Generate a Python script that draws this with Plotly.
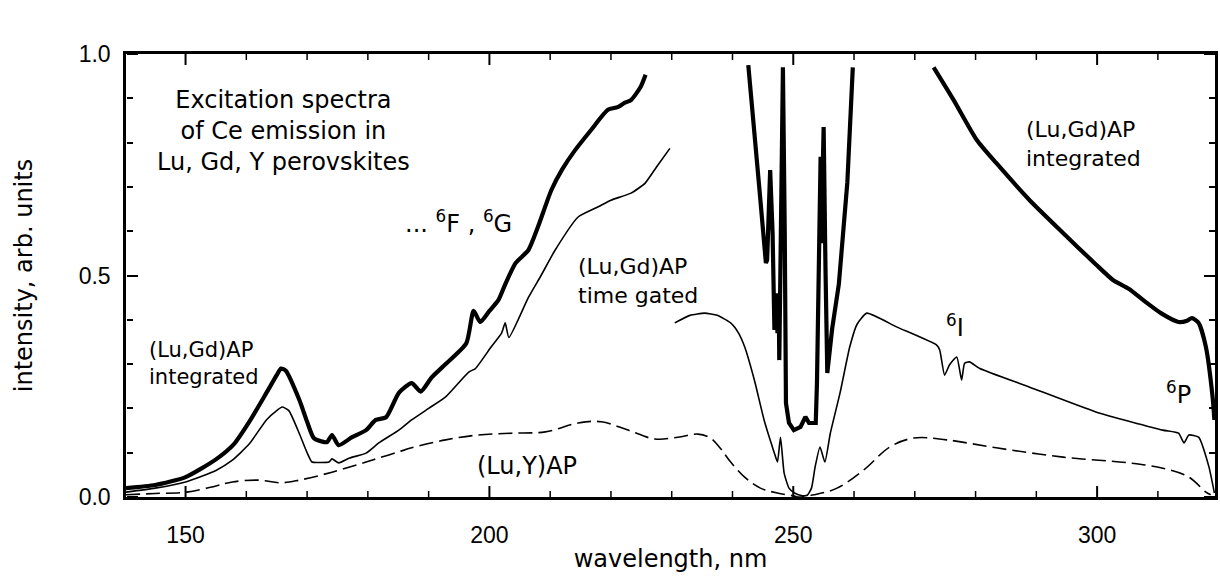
import plotly.graph_objects as go

# ---- data (wavelength nm, intensity arb. units) ----
thick_left_wl = [140.2, 145, 150, 155, 158, 160.5, 163.3, 165, 165.7, 166.5, 168.7, 170, 171.1, 172.5, 173.3,
                 174.1, 175.2, 177.4, 179.7, 181.3, 183, 185.1, 187.2, 188.7, 190.5, 192.8, 196.2, 197.4, 198.5,
                 200, 201.5, 202.6, 204.3, 206.4, 208, 210.2, 212, 214.1, 216.7, 219.5, 221.1, 222.3, 223.3,
                 224.9, 225.7]
thick_left_y = [0.02, 0.027, 0.045, 0.085, 0.12, 0.17, 0.235, 0.275, 0.29, 0.285, 0.22, 0.17, 0.133, 0.125, 0.124,
                0.14, 0.117, 0.135, 0.151, 0.174, 0.18, 0.235, 0.257, 0.238, 0.27, 0.30, 0.347, 0.42, 0.395,
                0.42, 0.445, 0.48, 0.528, 0.557, 0.61, 0.693, 0.74, 0.783, 0.828, 0.874, 0.88, 0.89, 0.896,
                0.926, 0.953]

thick_mid_wl = [242.6, 243.3, 244.4, 245.5, 245.7, 246.2, 246.6, 246.9, 247.2, 247.4, 247.6, 247.7, 248.0, 248.3,
                248.6, 248.8, 249.3, 250.1, 251.2, 252.0, 252.6, 253.7, 253.9, 254.2, 254.5, 254.6, 254.9, 255.0,
                255.3, 255.6, 256.4, 257.5, 258.9, 259.8]
thick_mid_y = [0.975, 0.858, 0.70, 0.528, 0.535, 0.738, 0.596, 0.377, 0.46, 0.37, 0.46, 0.309, 0.596, 0.97,
               0.596, 0.212, 0.167, 0.151, 0.158, 0.181, 0.167, 0.167, 0.257, 0.519, 0.768, 0.573, 0.768, 0.835,
               0.519, 0.28, 0.38, 0.48, 0.71, 0.97]

thick_right_wl = [273.1, 276.4, 280.2, 283.4, 288.9, 294.4, 299.8, 302.6, 305.2, 308, 310.5, 313.4, 314.8,
                  315.6, 316.7, 317.9, 319, 319.3]
thick_right_y = [0.97, 0.896, 0.806, 0.754, 0.67, 0.596, 0.525, 0.49, 0.47, 0.44, 0.415, 0.395, 0.398,
                 0.404, 0.393, 0.339, 0.226, 0.174]

gated_left_wl = [140.2, 145, 150, 155, 157.7, 160.5, 163.3, 165, 165.9, 167, 168.7, 170, 170.8, 172, 173.6,
                 174.1, 175.2, 177, 179.7, 181.8, 185.1, 187.2, 190, 192.8, 196.6, 197.7, 200.3, 202, 202.6,
                 203.2, 206.4, 208.5, 210.8, 214.6, 217.9, 220, 223.3, 225.6, 227.5, 229.7]
gated_left_y = [0.011, 0.02, 0.034, 0.06, 0.083, 0.12, 0.174, 0.195, 0.203, 0.195, 0.144, 0.1, 0.079, 0.078,
                0.079, 0.086, 0.077, 0.088, 0.099, 0.122, 0.151, 0.174, 0.2, 0.226, 0.282, 0.29, 0.339, 0.37,
                0.393, 0.36, 0.45, 0.5, 0.557, 0.632, 0.655, 0.67, 0.686, 0.708, 0.745, 0.787]

gated_right_wl = [230.5, 233, 235.4, 237.5, 239.7, 241, 242, 243.6, 245.2, 246.4, 246.9, 247.4, 247.9, 248.5,
                  249.3, 250.2, 251.5, 252.3, 253, 253.6, 254.4, 255.2, 256.1, 257.7, 259.3, 260.5, 262.1, 267,
                  273.6, 274.1, 274.9, 275.7, 276.9, 277.7, 278.2, 279, 280.7, 288.9, 299.8, 310.8, 313.4,
                  314.3, 315.1, 316.7, 318.4, 319.3]
gated_right_y = [0.393, 0.41, 0.415, 0.41, 0.393, 0.37, 0.339, 0.264, 0.174, 0.12, 0.099, 0.079, 0.135, 0.054,
                 0.02, 0.009, 0.003, 0.004, 0.02, 0.068, 0.113, 0.079, 0.144, 0.235, 0.339, 0.39, 0.415, 0.384,
                 0.343, 0.332, 0.275, 0.298, 0.316, 0.264, 0.302, 0.305, 0.29, 0.248, 0.192, 0.151, 0.144,
                 0.122, 0.14, 0.135, 0.068, 0.009]

luy_wl = [140.2, 145, 150.2, 155, 157.7, 162.1, 165.7, 168.7, 174.1, 179.7, 181.8, 185.1, 187.2, 192.8, 198.2,
          203.6, 209.2, 214.6, 218.4, 222.8, 227.2, 231, 234.3, 236.4, 238, 239.7, 242, 244.6, 247.4, 250.2,
          250.7, 253.4, 257.2, 261.6, 265.9, 269.8, 275.2, 283.4, 294.4, 305.2, 310.8, 315.1, 317.9, 318.7]
luy_y = [0.005, 0.008, 0.011, 0.025, 0.034, 0.038, 0.032, 0.038, 0.056, 0.079, 0.088, 0.102, 0.111, 0.129, 0.14,
         0.144, 0.147, 0.167, 0.17, 0.151, 0.131, 0.135, 0.142, 0.133, 0.11, 0.079, 0.045, 0.02, 0.009, 0.002,
         0.0, 0.005, 0.02, 0.061, 0.113, 0.133, 0.129, 0.111, 0.09, 0.077, 0.065, 0.045, 0.011, 0.005]

X_RANGE = [140.2, 319.4]
Y_RANGE = [0, 1.0]
X_MAJOR = [150, 200, 250, 300]
X_MINOR = [v for v in range(150, 320, 10) if v % 50]

TXT = "DejaVu Sans"
TICK = "Liberation Sans, Arial"

fig = go.Figure()
for xs, ys, shape in [(thick_left_wl, thick_left_y, "spline"), (thick_mid_wl, thick_mid_y, "linear"),
                      (thick_right_wl, thick_right_y, "spline")]:
    fig.add_trace(go.Scatter(x=xs, y=ys, mode="lines",
                             line=dict(color="black", width=4.2, shape=shape, smoothing=0.6),
                             showlegend=False, hoverinfo="skip"))
for xs, ys in [(gated_left_wl, gated_left_y), (gated_right_wl, gated_right_y)]:
    fig.add_trace(go.Scatter(x=xs, y=ys, mode="lines",
                             line=dict(color="black", width=1.6, shape="spline", smoothing=0.5),
                             showlegend=False, hoverinfo="skip"))
fig.add_trace(go.Scatter(x=luy_wl, y=luy_y, mode="lines",
                         line=dict(color="black", width=1.6, dash="14px,6px", shape="spline"),
                         showlegend=False, hoverinfo="skip"))

# empty helper traces so the inward-tick overlay y axes are drawn
for xa, ya in [("x", "y2"), ("x", "y3")]:
    fig.add_trace(go.Scatter(x=[], y=[], xaxis=xa, yaxis=ya, mode="lines",
                             showlegend=False, hoverinfo="skip"))

ann = [
    dict(x=166.1, y=0.826, text="Excitation spectra<br>of Ce emission in<br>Lu, Gd, Y perovskites",
         size=24, xanchor="center", align="center"),
    dict(x=194.9, y=0.62, text="... <sup>6</sup>F , <sup>6</sup>G", size=24, xanchor="center", align="center"),
    dict(x=214.3, y=0.488, text="(Lu,Gd)AP<br>time gated", size=22, xanchor="left", align="left"),
    dict(x=287.9, y=0.797, text="(Lu,Gd)AP<br>integrated", size=22, xanchor="left", align="left"),
    dict(x=143.6, y=0.302, text="(Lu,Gd)AP<br>integrated", size=21, xanchor="left", align="left"),
    dict(x=206.2, y=0.07, text="(Lu,Y)AP", size=24, xanchor="center", align="center"),
    dict(x=276.6, y=0.385, text="<sup>6</sup>I", size=24, xanchor="center", align="center"),
    dict(x=313.4, y=0.235, text="<sup>6</sup>P", size=24, xanchor="center", align="center"),
    dict(x=252.3, y=1.08, text="<sup>6</sup>D", size=24, xanchor="center", align="center"),
]
for a in ann:
    fig.add_annotation(x=a["x"], y=a["y"], xref="x", yref="y", text=a["text"], showarrow=False,
                       xanchor=a["xanchor"], yanchor="middle", align=a["align"],
                       font=dict(family=TXT, size=a["size"], color="black"))

# inward x ticks on bottom and top edges (x in data units, length in plot-height fraction)
PLOT_H = 577 - 54 - 80
for vals, length, width in [(X_MAJOR, 11, 2), (X_MINOR, 6, 1.5)]:
    frac = length / PLOT_H
    for v in vals:
        for y0, y1 in [(0, frac), (1, 1 - frac)]:
            fig.add_shape(type="line", xref="x", yref="paper", x0=v, x1=v, y0=y0, y1=y1,
                          line=dict(color="black", width=width), layer="above")


def tick_axis_y(position, side):
    return dict(range=Y_RANGE, overlaying="y", anchor="free", position=position, side=side,
                tickmode="linear", tick0=0, dtick=0.5, ticks="outside", ticklen=11, tickwidth=2,
                tickcolor="black", showticklabels=False, showline=False, showgrid=False, zeroline=False,
                automargin=False,
                minor=dict(dtick=0.1, tick0=0, ticks="outside", ticklen=6, tickwidth=1.5, tickcolor="black",
                           showgrid=False))


fig.update_layout(
    width=1220, height=577, margin=dict(l=126, r=2, t=54, b=80),
    paper_bgcolor="white", plot_bgcolor="white", showlegend=False,
    xaxis=dict(range=X_RANGE, tickmode="linear", tick0=0, dtick=50,
               showline=True, linecolor="black", linewidth=2.5, mirror=True, ticks="",
               showgrid=False, zeroline=False,
               tickfont=dict(family=TICK, size=23, color="black"),
               title=dict(text="wavelength, nm", font=dict(family=TXT, size=24, color="black"), standoff=3),
               ticklabelstandoff=16),
    yaxis=dict(range=Y_RANGE, tickmode="linear", tick0=0, dtick=0.5, tickformat=".1f",
               showline=True, linecolor="black", linewidth=2.5, mirror=True, ticks="",
               showgrid=False, zeroline=False,
               tickfont=dict(family=TICK, size=23, color="black"),
               ticklabelstandoff=8,
               title=dict(text="intensity, arb. units", font=dict(family=TXT, size=24, color="black"),
                          standoff=40)),
    yaxis2=tick_axis_y(0, "right"),
    yaxis3=tick_axis_y(1, "left"),
)

fig.write_html("out.html")
